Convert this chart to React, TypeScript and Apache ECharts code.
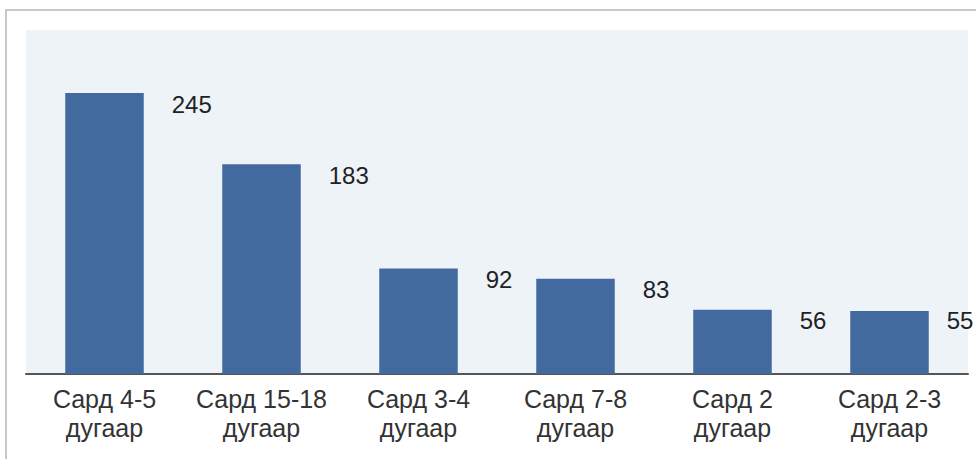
import React, { useEffect, useRef } from "react";
import * as echarts from "echarts";

// Categories and counts for the bar chart
const categories = [
  "Сард 4-5\nдугаар",
  "Сард 15-18\nдугаар",
  "Сард 3-4\nдугаар",
  "Сард 7-8\nдугаар",
  "Сард 2\nдугаар",
  "Сард 2-3\nдугаар",
];
const counts = [245, 183, 92, 83, 56, 55];
const yMax = 300;

const FONT = '"Liberation Sans", Arial, sans-serif';

export default function App() {
  const ref = useRef<HTMLDivElement>(null);

  useEffect(() => {
    if (!ref.current) return;
    const chart = echarts.init(ref.current, undefined, { renderer: "svg" });
    const last = counts.length - 1;
    chart.setOption({
      animation: false,
      backgroundColor: "#ffffff",
      textStyle: { fontFamily: FONT },
      graphic: [
        {
          type: "rect",
          shape: { x: 6, y: 10, width: 1100, height: 600 },
          style: { fill: "none", stroke: "#c9c9c9", lineWidth: 2 },
          silent: true,
          z: 100,
        },
      ],
      grid: {
        show: true,
        left: 26,
        right: 8,
        top: 30,
        bottom: 85,
        backgroundColor: "#eef3f8",
        borderWidth: 0,
        containLabel: false,
      },
      xAxis: {
        type: "category",
        data: categories,
        axisLine: { show: true, lineStyle: { color: "#555555", width: 2 } },
        axisTick: { show: false },
        axisLabel: {
          interval: 0,
          margin: 10,
          fontSize: 25,
          lineHeight: 29,
          color: "#333333",
          fontFamily: FONT,
        },
      },
      yAxis: {
        type: "value",
        min: 0,
        max: yMax,
        show: false,
        splitLine: { show: false },
      },
      series: [
        {
          type: "bar",
          // the last label sits closer to its bar so it stays on the canvas
          data: counts.map((v, i) =>
            i === last ? { value: v, label: { offset: [18, -2] } } : v
          ),
          barWidth: "50%",
          itemStyle: { color: "#426a9e" },
          label: {
            show: true,
            position: ["100%", 0],
            offset: [28, -1],
            fontSize: 24,
            color: "#222222",
            fontFamily: FONT,
          },
        },
      ],
    });
    return () => chart.dispose();
  }, []);

  return (
    <div
      ref={ref}
      style={{ position: "absolute", left: 0, top: 0, width: 976, height: 459 }}
    />
  );
}
